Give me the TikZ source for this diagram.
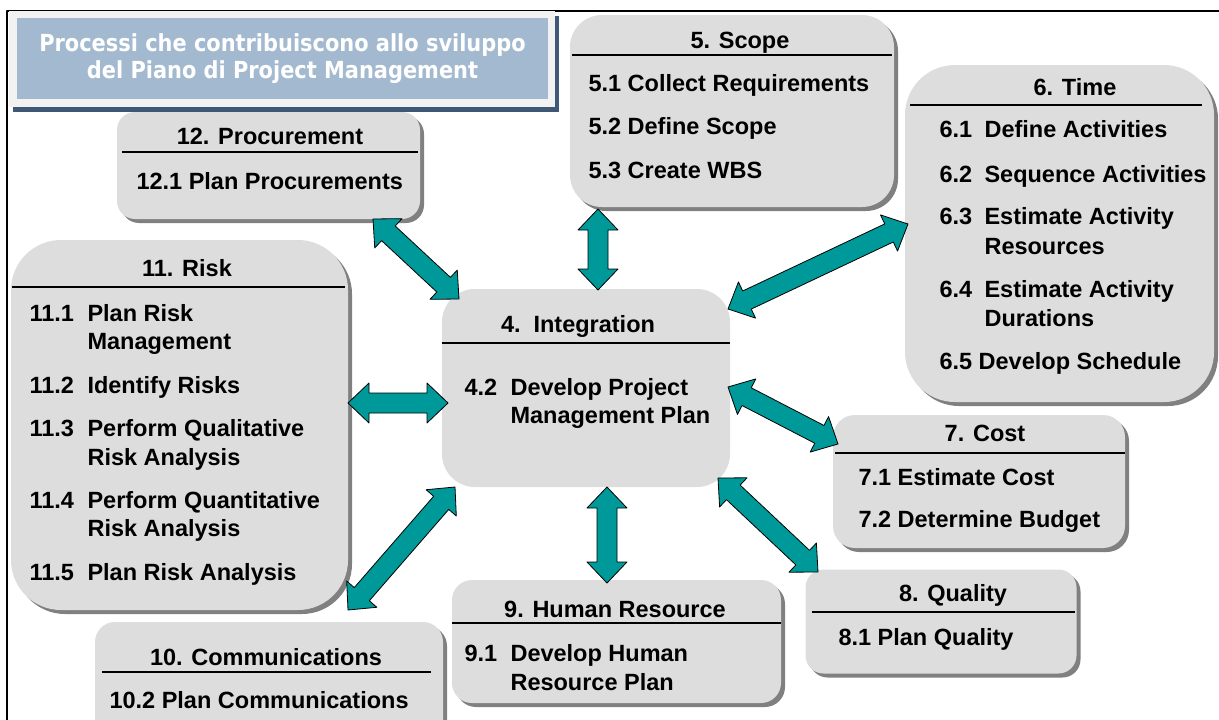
\documentclass[tikz,border=0pt]{standalone}
\usepackage{fontspec}
\setmainfont{Liberation Sans}
\newfontfamily\titlefont[FakeStretch=0.89]{DejaVu Sans}
\usetikzlibrary{calc,shadows}
\definecolor{boxgray}{RGB}{221,221,221}
\definecolor{shadegray}{RGB}{128,128,128}
\definecolor{titleblue}{RGB}{163,185,207}
\definecolor{titleedge}{RGB}{242,242,242}
\definecolor{titleshade}{RGB}{62,88,117}
\definecolor{arrowteal}{RGB}{0,153,153}
\newcommand{\boxfont}{\fontsize{23.5}{28}\selectfont\bfseries}
% double block arrow between two named points
\def\headlen{21pt} \def\headw{20pt} \def\shaftw{10pt}
\newcommand{\biarrow}[2]{%
 \coordinate (#1h) at ($(#1)!\headlen!(#2)$);
 \coordinate (#2h) at ($(#2)!\headlen!(#1)$);
 \draw[arrowbody] (#1) -- ($(#1h)!\headw!90:(#2)$) -- ($(#1h)!\shaftw!90:(#2)$)
  -- ($(#2h)!\shaftw!-90:(#1)$) -- ($(#2h)!\headw!-90:(#1)$) -- (#2)
  -- ($(#2h)!\headw!90:(#1)$) -- ($(#2h)!\shaftw!90:(#1)$)
  -- ($(#1h)!\shaftw!-90:(#2)$) -- ($(#1h)!\headw!-90:(#2)$) -- cycle;}
\begin{document}
\begin{tikzpicture}[x=1pt, y=-1pt, line join=round,
 box/.style={fill=boxgray, inner sep=0pt,
  drop shadow={shadow xshift=4pt, shadow yshift=-4pt, fill=shadegray, opacity=1}},
 flatbox/.style={fill=boxgray, inner sep=0pt},
 head/.style={anchor=base, font=\boxfont},
 item/.style={anchor=base west, font=\boxfont},
 divider/.style={line width=1.2pt},
 arrowbody/.style={fill=arrowteal, draw=black, line width=0.8pt}]
 \useasboundingbox (0,0) rectangle (1219,720);
 \clip (0,0) rectangle (1219,720);
 \draw[line width=1.5pt] (7,720) -- (7,11) -- (1219,11);

 % title
 \node[fill=titleedge, inner sep=0pt, minimum width=546pt, minimum height=96pt,
  drop shadow={shadow xshift=4pt, shadow yshift=-5pt, fill=titleshade, opacity=1}]
  (titlebg) at (282,59) {};
 \node[fill=titleblue, text=white, align=center, inner sep=0pt,
  minimum width=531pt, minimum height=81pt,
  font=\titlefont\fontsize{23.5}{27}\selectfont\bfseries]
  (title) at (282.5,58.5) {Processi che contribuiscono allo sviluppo\\del Piano di Project Management};

 % boxes
 \node[box, rounded corners=18pt, minimum width=303pt, minimum height=107pt] (proc) at (268.5,165.5) {};
 \node[box, rounded corners=32pt, minimum width=324pt, minimum height=192pt] (scope) at (732,111) {};
 \node[box, rounded corners=50pt, minimum width=309pt, minimum height=337pt] (time) at (1059.5,233.5) {};
 \node[box, rounded corners=50pt, minimum width=337pt, minimum height=370pt] (risk) at (179.5,425) {};
 \node[flatbox, rounded corners=33pt, minimum width=288pt, minimum height=198pt] (integ) at (586,388) {};
 \node[box, rounded corners=22pt, minimum width=292pt, minimum height=133pt] (cost) at (979,481.5) {};
 \node[box, rounded corners=18pt, minimum width=271pt, minimum height=104pt] (qual) at (941,621.5) {};
 \node[box, rounded corners=20pt, minimum width=329pt, minimum height=123pt] (hr) at (616.5,641.5) {};
 \node[box, rounded corners=20pt, minimum width=348pt, minimum height=118pt] (comm) at (269,681) {};

 % dividers
 \draw[divider] (122,152) -- (418,152);
 \draw[divider] (572,55) -- (892,55);
 \draw[divider] (910,105) -- (1202,105);
 \draw[divider] (12,287) -- (345,287);
 \draw[divider] (442,343) -- (730,343);
 \draw[divider] (835,453) -- (1125,453);
 \draw[divider] (812,612) -- (1075,612);
 \draw[divider] (452,623) -- (781,623);
 \draw[divider] (102,672) -- (431,672);

 % texts
 \node[head] (proch) at (270,144.4) {12. Procurement};
 \node[item] (proc1) at (133,189.4) {12.1 Plan Procurements};

 \node[head] (scopeh) at (740,48.4) {5. Scope};
 \node[item] (scope1) at (585,91.4) {5.1 Collect Requirements};
 \node[item] (scope2) at (585,134.4) {5.2 Define Scope};
 \node[item] (scope3) at (585,178.4) {5.3 Create WBS};

 \node[head] (timeh) at (1075,95.4) {6. Time};
 \node[item] at (936,137.4) {6.1};
 \node[item] (time1) at (981,137.4) {Define Activities};
 \node[item] at (936,182.4) {6.2};
 \node[item] (time2) at (981,182.4) {Sequence Activities};
 \node[item] at (936,224.4) {6.3};
 \node[item] (time3) at (981,224.4) {Estimate Activity};
 \node[item] at (981,254.4) {Resources};
 \node[item] at (936,297.4) {6.4};
 \node[item] (time4) at (981,297.4) {Estimate Activity};
 \node[item] at (981,326.4) {Durations};
 \node[item] (time5) at (936,369.4) {6.5 Develop Schedule};

 \node[head] (riskh) at (187,276.4) {11. Risk};
 \node[item] at (26,321.4) {11.1};
 \node[item] (risk1) at (84,321.4) {Plan Risk};
 \node[item] at (84,349.4) {Management};
 \node[item] at (26,393.4) {11.2};
 \node[item] (risk2) at (84,393.4) {Identify Risks};
 \node[item] at (26,436.4) {11.3};
 \node[item] (risk3) at (84,436.4) {Perform Qualitative};
 \node[item] at (84,465.4) {Risk Analysis};
 \node[item] at (26,508.4) {11.4};
 \node[item] (risk4) at (84,508.4) {Perform Quantitative};
 \node[item] at (84,536.4) {Risk Analysis};
 \node[item] at (26,580.4) {11.5};
 \node[item] (risk5) at (84,580.4) {Plan Risk Analysis};

 \node[head] (integh) at (578,332.4) {4.\hspace{0.55em}Integration};
 \node[item] at (461,395.4) {4.2};
 \node[item] (integ1) at (507,395.4) {Develop Project};
 \node[item] at (507,423.4) {Management Plan};

 \node[head] (costh) at (985,441.4) {7. Cost};
 \node[item] (cost1) at (855,485.4) {7.1 Estimate Cost};
 \node[item] (cost2) at (855,527.4) {7.2 Determine Budget};

 \node[head] (qualh) at (953,601.4) {8. Quality};
 \node[item] (qual1) at (835,645.4) {8.1 Plan Quality};

 \node[head] (hrh) at (615,617.4) {9. Human Resource};
 \node[item] at (461,661.4) {9.1};
 \node[item] (hr1) at (507,661.4) {Develop Human};
 \node[item] at (507,690.4) {Resource Plan};

 \node[head] (commh) at (266,665.4) {10. Communications};
 \node[item] (comm1) at (106,708.4) {10.2 Plan Communications};

 % arrow ends
 \coordinate (pr1) at (373,219); \coordinate (pr2) at (459,299);
 \coordinate (sc1) at (598,209); \coordinate (sc2) at (598,290);
 \coordinate (ti1) at (908,224); \coordinate (ti2) at (728,309);
 \coordinate (ri1) at (348,403); \coordinate (ri2) at (448,403);
 \coordinate (co1) at (728,387); \coordinate (co2) at (838,444);
 \coordinate (qu1) at (718,478); \coordinate (qu2) at (818,572);
 \coordinate (hu1) at (607,487); \coordinate (hu2) at (607,583);
 \coordinate (cm1) at (455,487); \coordinate (cm2) at (348,610);
 \biarrow{pr1}{pr2}
 \biarrow{sc1}{sc2}
 \biarrow{ti1}{ti2}
 \biarrow{ri1}{ri2}
 \biarrow{co1}{co2}
 \biarrow{qu1}{qu2}
 \biarrow{hu1}{hu2}
 \biarrow{cm1}{cm2}
\end{tikzpicture}
\end{document}
